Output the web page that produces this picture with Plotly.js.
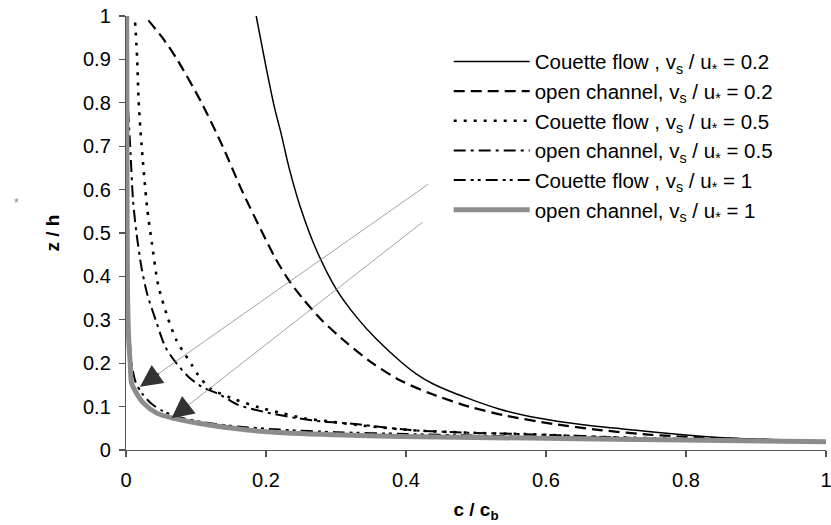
<!DOCTYPE html>
<html>
<head>
<meta charset="utf-8">
<script src="https://cdn.plot.ly/plotly-3.0.1.min.js"></script>
<style>html,body{margin:0;padding:0;background:#fff;}#chart{width:831px;height:525px;}</style>
</head>
<body>
<div id="chart"></div>
<script>
// ---- data ----
var seriesNames = [
  'Couette flow , v<sub>s</sub> / u<sub>*</sub> = 0.2',
  'open channel, v<sub>s</sub> / u<sub>*</sub> = 0.2',
  'Couette flow , v<sub>s</sub> / u<sub>*</sub> = 0.5',
  'open channel, v<sub>s</sub> / u<sub>*</sub> = 0.5',
  'Couette flow , v<sub>s</sub> / u<sub>*</sub> = 1',
  'open channel, v<sub>s</sub> / u<sub>*</sub> = 1'
];
// Couette flow, vs/u* = 0.2
var cf02_c = [0.186,0.200,0.213,0.221,0.233,0.249,0.272,0.301,0.330,0.358,0.395,0.415,0.439,0.487,0.534,0.591,0.653,0.725,0.796,0.867,1.0];
var cf02_z = [1.0,0.883,0.783,0.733,0.65,0.56,0.461,0.369,0.305,0.255,0.2,0.175,0.152,0.12,0.094,0.073,0.058,0.046,0.035,0.027,0.021];
// open channel, vs/u* = 0.2
var oc02_c = [0.032,0.052,0.073,0.108,0.138,0.165,0.195,0.214,0.233,0.252,0.279,0.313,0.352,0.392,0.435,0.49,0.54,0.61,0.677,0.75,0.85,1.0];
var oc02_z = [0.99,0.95,0.9,0.8,0.7,0.6,0.5,0.44,0.39,0.35,0.3,0.25,0.2,0.16,0.13,0.1,0.08,0.06,0.046,0.035,0.027,0.019];
// Couette flow, vs/u* = 0.5
var cf05_c = [0.013,0.016,0.018,0.022,0.030,0.037,0.046,0.060,0.072,0.082,0.094,0.103,0.120,0.150,0.190,0.225,0.255,0.295,0.345,0.405,0.487,0.582,0.66,0.75,0.87,1.0];
var cf05_z = [0.985,0.9,0.806,0.707,0.561,0.476,0.38,0.303,0.253,0.226,0.196,0.173,0.142,0.12,0.098,0.084,0.073,0.065,0.055,0.046,0.04,0.036,0.031,0.027,0.023,0.02];
// open channel, vs/u* = 0.5
var oc05_c = [0.003,0.006,0.010,0.015,0.022,0.030,0.044,0.056,0.070,0.089,0.108,0.135,0.16,0.208,0.246,0.284,0.32,0.406,0.487,0.582,0.653,0.72];
var oc05_z = [0.783,0.699,0.576,0.499,0.422,0.361,0.292,0.238,0.204,0.169,0.146,0.127,0.104,0.084,0.073,0.065,0.061,0.046,0.04,0.036,0.032,0.028];
// Couette flow, vs/u* = 1
var cf1_c = [0.002,0.004,0.008,0.014,0.024,0.036,0.052,0.075,0.11,0.16,0.22,0.30,0.40,0.50,0.65,0.80,1.0];
var cf1_z = [0.55,0.3,0.2,0.155,0.128,0.107,0.09,0.076,0.064,0.054,0.047,0.041,0.037,0.033,0.029,0.024,0.019];
// open channel, vs/u* = 1
var oc1_c = [0.001,0.0015,0.002,0.0025,0.004,0.006,0.008,0.015,0.025,0.044,0.068,0.106,0.153,0.201,0.296,0.391,0.6,0.796,1.0];
var oc1_z = [1.0,0.6,0.4,0.33,0.25,0.2,0.154,0.131,0.108,0.085,0.073,0.061,0.05,0.042,0.035,0.031,0.027,0.023,0.019];

// arrows (tail -> tip), data coordinates
var arrowTail_c = [0.434, 0.426];
var arrowTail_z = [0.615, 0.528];
var arrowTip_c = [0.02, 0.065];
var arrowTip_z = [0.146, 0.073];

var xTickVals = [0,0.2,0.4,0.6,0.8,1];
var yTickVals = [0,0.1,0.2,0.3,0.4,0.5,0.6,0.7,0.8,0.9,1];

// ---- styles ----
var FONT = "'Liberation Sans', Arial, sans-serif";
var styles = [
  {color:'#000000', width:1.5, dash:'solid'},
  {color:'#000000', width:2.2, dash:'11px,6px'},
  {color:'#000000', width:2.6, dash:'3px,7px'},
  {color:'#000000', width:2, dash:'12px,5px,3px,5px'},
  {color:'#000000', width:2, dash:'12px,5px,3px,4px,3px,5px'},
  {color:'#8c8c8c', width:5, dash:'solid'}
];
var xs = [cf02_c, oc02_c, cf05_c, oc05_c, cf1_c, oc1_c];
var zs = [cf02_z, oc02_z, cf05_z, oc05_z, cf1_z, oc1_z];

var traces = xs.map(function(x, i){
  return {
    x: x, y: zs[i], name: seriesNames[i], type:'scatter', mode:'lines',
    line: {color: styles[i].color, width: styles[i].width, dash: styles[i].dash, shape:'spline', smoothing:0.7},
    hoverinfo:'skip'
  };
});

var annotations = [];
for (var k = 0; k < arrowTip_c.length; k++) {
  // thin gray shaft
  annotations.push({
    x: arrowTip_c[k], y: arrowTip_z[k], ax: arrowTail_c[k], ay: arrowTail_z[k],
    xref:'x', yref:'y', axref:'x', ayref:'y', text:'', showarrow:true,
    arrowhead:0, arrowwidth:0.8, arrowcolor:'#8a8a8a'
  });
  // dark head
  var f = 0.07;
  annotations.push({
    x: arrowTip_c[k], y: arrowTip_z[k],
    ax: arrowTip_c[k] + f*(arrowTail_c[k]-arrowTip_c[k]),
    ay: arrowTip_z[k] + f*(arrowTail_z[k]-arrowTip_z[k]),
    xref:'x', yref:'y', axref:'x', ayref:'y', text:'', showarrow:true,
    arrowhead:2, arrowsize:2.2, arrowwidth:2, arrowcolor:'#333333'
  });
}
annotations.push({
  xref:'paper', yref:'paper', x:-0.163, y:0.569, text:'*', showarrow:false,
  font:{family:FONT, size:12, color:'#888888'}
});

var layout = {
  width:831, height:525,
  margin:{l:126, r:5, t:16, b:75},
  paper_bgcolor:'#ffffff', plot_bgcolor:'#ffffff',
  font:{family:FONT, size:20, color:'#000000'},
  showlegend:true,
  legend:{
    x:0.461, y:0.941, xanchor:'left', yanchor:'top',
    bgcolor:'rgba(255,255,255,0)', borderwidth:0,
    font:{family:FONT, size:20.5, color:'#000'},
    itemwidth:76, tracegroupgap:0
  },
  xaxis:{
    range:[0,1], tickvals:xTickVals, ticktext:xTickVals.map(String),
    showgrid:false, zeroline:false, showline:true, linecolor:'#555555', linewidth:1.2,
    ticks:'outside', ticklen:6, tickcolor:'#555555', tickwidth:1.2,
    ticklabelstandoff:6, ticklabeloverflow:'allow',
    tickfont:{family:FONT, size:20, color:'#000'},
    title:{text:'<b>c / c<sub>b</sub></b>', font:{family:FONT, size:19, color:'#000'}, standoff:12}
  },
  yaxis:{
    range:[0,1], tickvals:yTickVals, ticktext:yTickVals.map(String),
    showgrid:false, zeroline:false, showline:true, linecolor:'#555555', linewidth:1.2,
    ticks:'outside', ticklen:6, tickcolor:'#555555', tickwidth:1.2,
    ticklabelstandoff:4, ticklabeloverflow:'allow',
    tickfont:{family:FONT, size:20, color:'#000'},
    title:{text:'<b>z / h</b>', font:{family:FONT, size:19, color:'#000'}, standoff:18}
  },
  annotations: annotations
};

Plotly.newPlot('chart', traces, layout, {staticPlot:true});
</script>
</body>
</html>
